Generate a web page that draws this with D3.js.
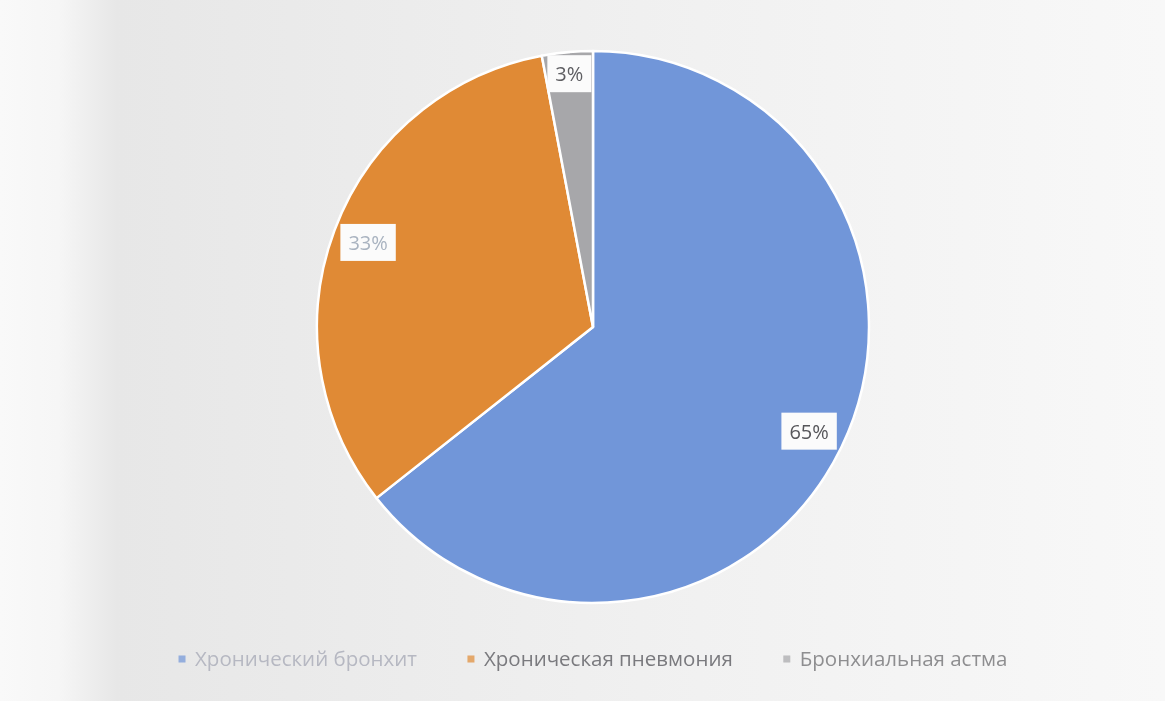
<!DOCTYPE html>
<html>
<head>
<meta charset="utf-8">
<script src="https://cdn.jsdelivr.net/npm/d3@7"></script>
<style>
  html, body { margin: 0; padding: 0; background: #f2f2f2; }
  svg { display: block; }
</style>
</head>
<body>
<svg id="chart" width="1165" height="701"></svg>
<script>
// Structure of chronic respiratory disease cases (percent)
const categories = ["Хронический бронхит", "Хроническая пневмония", "Бронхиальная астма"];
const values = [65, 33, 3];
const valueLabels = ["65%", "33%", "3%"];

const sliceColors = ["#7196d9", "#e08a34", "#a7a7aa"];
const legendTextColors = ["#b6b8c2", "#7a7a7e", "#8e8e90"];
const labelTextColors = ["#56565a", "#a9b3c0", "#5e5e62"];

const W = 1165, H = 701;
const cx = 593, cy = 327, R = 276;

const svg = d3.select("#chart");
const defs = svg.append("defs");

// Paper background: darker band on the left, lighter to the right
const bg = defs.append("linearGradient").attr("id", "paper")
  .attr("x1", "0").attr("x2", "1").attr("y1", "0").attr("y2", "0");
[[0, "#f9f9f9"], [0.05, "#f6f6f6"], [0.1, "#e7e7e7"], [0.3, "#ebebeb"], [0.6, "#f1f1f1"], [1, "#f8f8f8"]]
  .forEach(([o, c]) => bg.append("stop").attr("offset", o).attr("stop-color", c));

const soft = defs.append("filter").attr("id", "soft");
soft.append("feGaussianBlur").attr("stdDeviation", 0.6);

svg.append("rect").attr("width", W).attr("height", H).attr("fill", "url(#paper)");

const root = svg.append("g").attr("filter", "url(#soft)");

const color = d3.scaleOrdinal().domain(categories).range(sliceColors);

const pie = d3.pie().sort(null).value(d => d.value);
const data = categories.map((c, i) => ({ name: c, value: values[i], label: valueLabels[i], i }));
const arcs = pie(data);

const arc = d3.arc().innerRadius(0).outerRadius(R);

const g = root.append("g").attr("transform", `translate(${cx},${cy})`);

g.selectAll("path.slice")
  .data(arcs)
  .join("path")
  .attr("class", "slice")
  .attr("d", arc)
  .attr("fill", d => color(d.data.name))
  .attr("stroke", "#ffffff")
  .attr("stroke-width", 2.5)
  .attr("stroke-linejoin", "round");

// Data labels in white boxes
const labelArcWide = d3.arc().innerRadius(R * 0.87).outerRadius(R * 0.87);
const labelArcNarrow = d3.arc().innerRadius(R * 0.92).outerRadius(R * 0.92);

const lab = g.selectAll("g.lab")
  .data(arcs)
  .join("g")
  .attr("class", "lab")
  .attr("transform", d => {
    const a = (d.endAngle - d.startAngle) < 0.3 ? labelArcNarrow : labelArcWide;
    const [x, y] = a.centroid(d);
    return `translate(${x},${y})`;
  });

lab.append("text")
  .attr("text-anchor", "middle")
  .attr("dy", "0.35em")
  .attr("font-family", "'Open Sans', sans-serif")
  .attr("font-size", 20)
  .attr("fill", d => labelTextColors[d.data.i])
  .text(d => d.data.label)
  .each(function () {
    const b = this.getBBox();
    d3.select(this.parentNode).insert("rect", "text")
      .attr("x", b.x - 8).attr("y", b.y - 5)
      .attr("width", b.width + 16).attr("height", b.height + 10)
      .attr("fill", "#fbfbfb");
  });

// Legend: marker + name, laid out in one centred row
const legendY = 659, markerGap = 13, itemGap = 54;
const legG = root.append("g");
const leg = legG.selectAll("g")
  .data(categories)
  .join("g");

leg.append("rect")
  .attr("x", -3.5).attr("y", -3.5).attr("width", 7).attr("height", 7)
  .attr("fill", d => color(d))
  .attr("opacity", 0.7);

leg.append("text")
  .attr("x", markerGap)
  .attr("dy", "0.35em")
  .attr("font-family", "'Open Sans', sans-serif")
  .attr("font-size", 20.5)
  .attr("fill", (d, i) => legendTextColors[i])
  .text(d => d);

let xPos = 0;
const offsets = [];
leg.each(function () {
  offsets.push(xPos);
  const tw = d3.select(this).select("text").node().getComputedTextLength();
  xPos += markerGap + tw + itemGap;
});
const total = xPos - itemGap + 3.5;
const startX = cx - total / 2 + 3.5;
leg.attr("transform", (d, i) => `translate(${startX + offsets[i]},${legendY})`);
</script>
</body>
</html>
